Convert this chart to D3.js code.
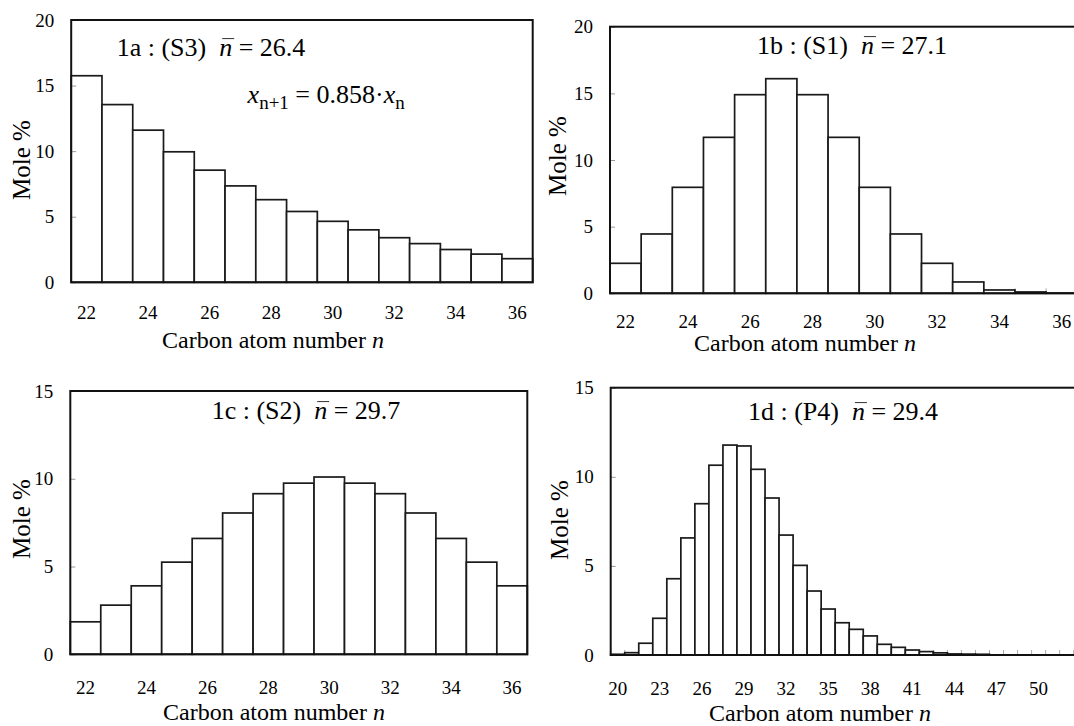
<!DOCTYPE html>
<html>
<head>
<meta charset="utf-8">
<script src="https://cdn.jsdelivr.net/npm/d3@7"></script>
<style>
  body { margin: 0; background: #fff; }
</style>
</head>
<body>
<svg id="chart" width="1074" height="726"></svg>
<script>
// Data (mole % per carbon number)
let carbonA = d3.range(22, 37);
let moleA = [15.75, 13.55, 11.6, 9.95, 8.55, 7.35, 6.3, 5.4, 4.65, 4.0, 3.4, 2.95, 2.5, 2.15, 1.8];

let carbonB = d3.range(22, 37);
let moleB = [2.25, 4.45, 7.95, 11.7, 14.9, 16.1, 14.9, 11.7, 7.95, 4.45, 2.25, 0.85, 0.25, 0.1, 0.02];

let carbonC = d3.range(22, 37);
let moleC = [1.85, 2.8, 3.9, 5.25, 6.6, 8.05, 9.15, 9.75, 10.1, 9.75, 9.15, 8.05, 6.6, 5.25, 3.9];

let carbonD = d3.range(20, 54);
let moleD = [0.04, 0.13, 0.66, 2.06, 4.28, 6.57, 8.49, 10.65, 11.78, 11.73, 10.42, 8.81, 6.73, 5.03,
  3.59, 2.58, 1.81, 1.44, 1.07, 0.6, 0.43, 0.28, 0.19, 0.12, 0.06, 0.05, 0.04, 0, 0, 0, 0, 0, 0, 0];

// Tick labels
let xTicksABC = [22, 24, 26, 28, 30, 32, 34, 36];
let xTicksD = [20, 23, 26, 29, 32, 35, 38, 41, 44, 47, 50];
let yTicks20 = [0, 5, 10, 15, 20];
let yTicks15 = [0, 5, 10, 15];

const SERIF = "'Liberation Serif', 'Times New Roman', Times, serif";

let svg = d3.select("svg#chart")
  .attr("font-family", SERIF);

let panels = [
  { carbon: carbonA, mole: moleA, xTicks: xTicksABC, yTicks: yTicks20, ymax: 20,
    left: 71.2, right: 532.7, top: 20, bottom: 282.3, xPad: 23,
    label: ["1a : (S3) ", "26.4"], labelX: 211, labelY: 47,
    titleX: 273, titleY: 340, yTitleX: 22, yTitleY: 160, formula: true },
  { carbon: carbonB, mole: moleB, xTicks: xTicksABC, yTicks: yTicks20, ymax: 20,
    left: 610, right: 1077.3, top: 26.7, bottom: 293.3, xPad: 21,
    label: ["1b : (S1) ", "27.1"], labelX: 852, labelY: 45,
    titleX: 805, titleY: 343, yTitleX: 558, yTitleY: 156 },
  { carbon: carbonC, mole: moleC, xTicks: xTicksABC, yTicks: yTicks15, ymax: 15,
    left: 70.3, right: 527.3, top: 391, bottom: 654.3, xPad: 26,
    label: ["1c : (S2) ", "29.7"], labelX: 306, labelY: 410,
    titleX: 274, titleY: 711.7, yTitleX: 22, yTitleY: 519 },
  { carbon: carbonD, mole: moleD, xTicks: xTicksD, yTicks: yTicks15, ymax: 15,
    left: 610.7, right: 610.7 + 34 * 14.03, top: 387.7, bottom: 655, xPad: 27,
    label: ["1d : (P4) ", "29.4"], labelX: 843, labelY: 411,
    titleX: 820, titleY: 713, yTitleX: 559.5, yTitleY: 520 }
];

panels.forEach(p => {
  let g = svg.append("g");

  let x = d3.scaleBand()
    .domain(p.carbon)
    .range([p.left, p.right])
    .padding(0);
  let y = d3.scaleLinear()
    .domain([0, p.ymax])
    .range([p.bottom, p.top]);

  // faint tick marks at the category boundaries
  g.append("g")
    .selectAll("line")
    .data(p.carbon.slice(1))
    .enter()
    .append("line")
      .attr("x1", d => x(d))
      .attr("x2", d => x(d))
      .attr("y1", p.bottom)
      .attr("y2", p.bottom - 5)
      .attr("stroke", "#aaa")
      .attr("stroke-width", 1);

  // Bars
  g.append("g")
    .selectAll("rect")
    .data(p.carbon.map((c, i) => ({ c: c, v: p.mole[i] })))
    .enter()
    .append("rect")
      .attr("x", d => x(d.c))
      .attr("y", d => y(d.v))
      .attr("width", x.bandwidth())
      .attr("height", d => y(0) - y(d.v))
      .attr("fill", "#fff")
      .attr("stroke", "#1a1a1a")
      .attr("stroke-width", 1.7);

  // Y axis
  g.append("g")
    .attr("transform", "translate(" + p.left + ",0)")
    .call(d3.axisLeft(y).tickValues(p.yTicks).tickSizeInner(-5).tickSizeOuter(0).tickPadding(17))
    .attr("font-family", SERIF)
    .call(a => a.select(".domain").remove())
    .call(a => a.selectAll("line").attr("stroke", "#999"))
    .call(a => a.selectAll("text").style("font-size", "19px").style("font-family", SERIF));

  // X axis
  g.append("g")
    .attr("transform", "translate(0," + p.bottom + ")")
    .call(d3.axisBottom(x).tickValues(p.xTicks).tickSize(0).tickPadding(p.xPad))
    .attr("font-family", SERIF)
    .call(a => a.select(".domain").remove())
    .call(a => a.selectAll("text").style("font-size", "19px").style("font-family", SERIF));

  // Frame
  g.append("rect")
    .attr("x", p.left)
    .attr("y", p.top)
    .attr("width", p.right - p.left)
    .attr("height", p.bottom - p.top)
    .attr("fill", "none")
    .attr("stroke", "#111")
    .attr("stroke-width", 2);

  // Axis titles
  let xt = g.append("text")
    .attr("x", p.titleX)
    .attr("y", p.titleY)
    .attr("dy", "0.33em")
    .style("font-family", SERIF)
    .style("font-size", "24px")
    .style("text-anchor", "middle");
  xt.append("tspan").text("Carbon atom number ");
  xt.append("tspan").style("font-style", "italic").text("n");

  g.append("text")
    .attr("transform", "translate(" + p.yTitleX + "," + p.yTitleY + ") rotate(-90)")
    .attr("dy", "0.33em")
    .style("font-family", SERIF)
    .style("font-size", "25px")
    .style("text-anchor", "middle")
    .text("Mole %");

  // Panel label with n-bar
  let lt = g.append("text")
    .attr("x", p.labelX)
    .attr("y", p.labelY)
    .attr("dy", "0.33em")
    .style("font-family", SERIF)
    .style("font-size", "26px")
    .style("text-anchor", "middle");
  lt.append("tspan").text(p.label[0] + "\u00a0");
  lt.append("tspan").style("font-style", "italic").text("n");
  lt.append("tspan").text(" = " + p.label[1]);

  // overline above the italic n
  let nIdx = p.label[0].length + 1;
  let node = lt.node();
  let s = node.getStartPositionOfChar(nIdx);
  let e = node.getEndPositionOfChar(nIdx);
  g.append("line")
    .attr("x1", s.x + 3)
    .attr("x2", e.x + 2)
    .attr("y1", s.y - 17)
    .attr("y2", s.y - 17)
    .attr("stroke", "#333")
    .attr("stroke-width", 1);

  if (p.formula) {
    let ft = g.append("text")
      .attr("x", 247.6)
      .attr("y", 103)
      .style("font-family", SERIF)
      .style("font-size", "26px");
    ft.append("tspan").style("font-style", "italic").text("x");
    ft.append("tspan").attr("dy", 6).style("font-size", "19px").text("n+1");
    ft.append("tspan").attr("dy", -6).text(" = 0.858\u00b7");
    ft.append("tspan").style("font-style", "italic").text("x");
    ft.append("tspan").attr("dy", 6).style("font-size", "19px").text("n");
  }
});
</script>
</body>
</html>
